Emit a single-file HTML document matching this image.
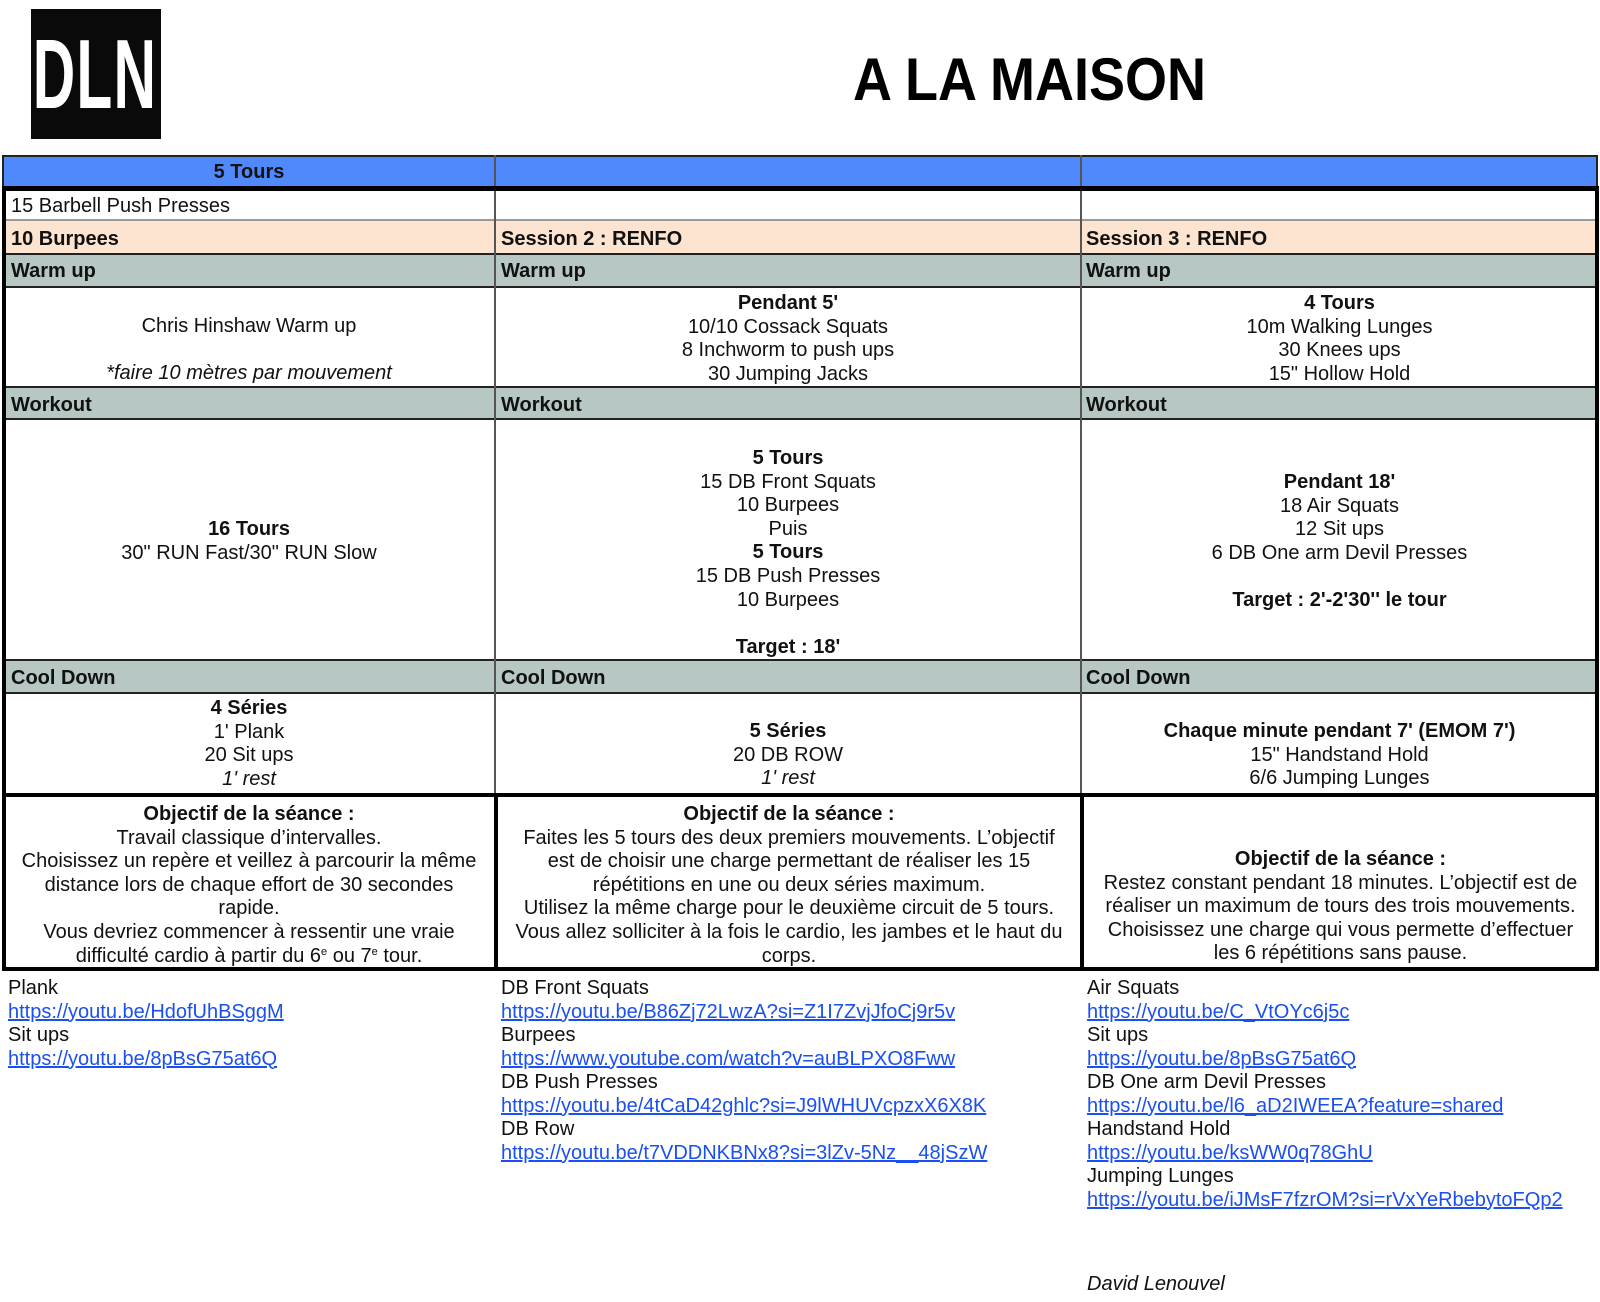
<!DOCTYPE html>
<html><head><meta charset="utf-8"><style>
*{margin:0;padding:0;box-sizing:border-box}
body{width:1600px;height:1302px;background:#fff;position:relative;overflow:hidden;font-family:"Liberation Sans",Arial,sans-serif;font-size:20px;color:#111}
.a{position:absolute}
.r{position:absolute;left:4px;width:1593px}
.h{position:absolute;line-height:20px;font-weight:bold;white-space:nowrap}
.t{position:absolute;text-align:center;line-height:23.6px;white-space:nowrap}
.l{position:absolute;line-height:23.5px;white-space:nowrap}
.l a{color:#1a4ff0;text-decoration:underline}
b{font-weight:bold}
.hl{position:absolute;left:4px;width:1593px;height:2px;background:#222}
.vl{position:absolute;width:2px;background:#222}
sup{font-size:11px;vertical-align:7px;line-height:0}
</style></head><body>
<!-- logo -->
<div class="a" style="left:31px;top:9px;width:130px;height:130px;background:#0a0a0a"></div>
<div class="a" style="left:-35px;top:25px;width:260px;text-align:center;color:#fff;font-weight:bold;font-size:98px;line-height:98px;letter-spacing:2px;transform:scaleX(0.6);transform-origin:center">DLN</div>
<div class="a" style="left:853px;top:44px;font-size:60px;font-weight:bold;line-height:72px;color:#000;white-space:nowrap;transform:scaleX(0.9);transform-origin:left center">A LA MAISON</div>

<!-- row backgrounds -->
<div class="r" style="top:155px;height:33px;background:#4f89fb;left:2px;width:1596px;border:2px solid #222"></div>
<div class="r" style="top:220px;height:34px;background:#fce4d0"></div>
<div class="r" style="top:254px;height:33px;background:#b7c7c4"></div>
<div class="r" style="top:387px;height:32px;background:#b7c7c4"></div>
<div class="r" style="top:660px;height:33px;background:#b7c7c4"></div>

<div class="hl" style="top:219px;background:#999"></div>
<div class="hl" style="top:253px"></div>
<div class="hl" style="top:286px"></div>
<div class="hl" style="top:386px"></div>
<div class="hl" style="top:418px"></div>
<div class="hl" style="top:659px"></div>
<div class="hl" style="top:692px"></div>
<div class="vl" style="left:494px;top:155px;height:640px;background:#555"></div>
<div class="vl" style="left:1080px;top:155px;height:640px;background:#555"></div>
<div class="a" style="left:2px;top:186px;width:1597px;height:785px;border:4px solid #000;border-top-width:5px"></div>
<div class="a" style="left:2px;top:793px;width:1597px;height:4px;background:#000"></div>
<div class="a" style="left:494px;top:793px;width:4px;height:177px;background:#000"></div>
<div class="a" style="left:1080px;top:793px;width:4px;height:177px;background:#000"></div>

<div class="h" style="left:4px;width:490px;text-align:center;top:162px">5 Tours</div>
<div class="h" style="left:11px;top:196px;font-weight:normal">15 Barbell Push Presses</div>
<div class="h" style="left:11px;top:229px">10 Burpees</div>
<div class="h" style="left:501px;top:229px">Session 2 : RENFO</div>
<div class="h" style="left:1086px;top:229px">Session 3 : RENFO</div>
<div class="h" style="left:11px;top:261px">Warm up</div>
<div class="h" style="left:501px;top:261px">Warm up</div>
<div class="h" style="left:1086px;top:261px">Warm up</div>
<div class="h" style="left:11px;top:395px">Workout</div>
<div class="h" style="left:501px;top:395px">Workout</div>
<div class="h" style="left:1086px;top:395px">Workout</div>
<div class="h" style="left:11px;top:668px">Cool Down</div>
<div class="h" style="left:501px;top:668px">Cool Down</div>
<div class="h" style="left:1086px;top:668px">Cool Down</div>

<div class="t" style="left:4px;width:490px;top:315px">Chris Hinshaw Warm up<br>&nbsp;<br><i>*faire 10 mètres par mouvement</i></div>
<div class="t" style="left:496px;width:584px;top:292px"><b>Pendant 5'</b><br>10/10 Cossack Squats<br>8 Inchworm to push ups<br>30 Jumping Jacks</div>
<div class="t" style="left:1082px;width:515px;top:292px"><b>4 Tours</b><br>10m Walking Lunges<br>30 Knees ups<br>15" Hollow Hold</div>

<div class="t" style="left:4px;width:490px;top:518px"><b>16 Tours</b><br>30" RUN Fast/30" RUN Slow</div>
<div class="t" style="left:496px;width:584px;top:447px"><b>5 Tours</b><br>15 DB Front Squats<br>10 Burpees<br>Puis<br><b>5 Tours</b><br>15 DB Push Presses<br>10 Burpees<br>&nbsp;<br><b>Target : 18'</b></div>
<div class="t" style="left:1082px;width:515px;top:471px"><b>Pendant 18'</b><br>18 Air Squats<br>12 Sit ups<br>6 DB One arm Devil Presses<br>&nbsp;<br><b>Target : 2'-2'30'' le tour</b></div>

<div class="t" style="left:4px;width:490px;top:697px"><b>4 Séries</b><br>1' Plank<br>20 Sit ups<br><i>1' rest</i></div>
<div class="t" style="left:496px;width:584px;top:720px"><b>5 Séries</b><br>20 DB ROW<br><i>1' rest</i></div>
<div class="t" style="left:1082px;width:515px;top:720px"><b>Chaque minute pendant 7' (EMOM 7')</b><br>15" Handstand Hold<br>6/6 Jumping Lunges</div>

<div class="t" style="left:4px;width:490px;top:803px"><b>Objectif de la séance :</b><br>Travail classique d’intervalles.<br>Choisissez un repère et veillez à parcourir la même<br>distance lors de chaque effort de 30 secondes<br>rapide.<br>Vous devriez commencer à ressentir une vraie<br>difficulté cardio à partir du 6<sup>e</sup> ou 7<sup>e</sup> tour.</div>
<div class="t" style="left:498px;width:582px;top:803px"><b>Objectif de la séance :</b><br>Faites les 5 tours des deux premiers mouvements. L’objectif<br>est de choisir une charge permettant de réaliser les 15<br>répétitions en une ou deux séries maximum.<br>Utilisez la même charge pour le deuxième circuit de 5 tours.<br>Vous allez solliciter à la fois le cardio, les jambes et le haut du<br>corps.</div>
<div class="t" style="left:1084px;width:513px;top:848px"><b>Objectif de la séance :</b><br>Restez constant pendant 18 minutes. L’objectif est de<br>réaliser un maximum de tours des trois mouvements.<br>Choisissez une charge qui vous permette d’effectuer<br>les 6 répétitions sans pause.</div>

<div class="l" style="left:8px;top:977px">Plank<br><a>https://youtu.be/HdofUhBSggM</a><br>Sit ups<br><a>https://youtu.be/8pBsG75at6Q</a></div>
<div class="l" style="left:501px;top:977px">DB Front Squats<br><a>https://youtu.be/B86Zj72LwzA?si=Z1I7ZvjJfoCj9r5v</a><br>Burpees<br><a>https://www.youtube.com/watch?v=auBLPXO8Fww</a><br>DB Push Presses<br><a>https://youtu.be/4tCaD42ghlc?si=J9lWHUVcpzxX6X8K</a><br>DB Row<br><a>https://youtu.be/t7VDDNKBNx8?si=3lZv-5Nz__48jSzW</a></div>
<div class="l" style="left:1087px;top:977px">Air Squats<br><a>https://youtu.be/C_VtOYc6j5c</a><br>Sit ups<br><a>https://youtu.be/8pBsG75at6Q</a><br>DB One arm Devil Presses<br><a>https://youtu.be/l6_aD2IWEEA?feature=shared</a><br>Handstand Hold<br><a>https://youtu.be/ksWW0q78GhU</a><br>Jumping Lunges<br><a>https://youtu.be/iJMsF7fzrOM?si=rVxYeRbebytoFQp2</a></div>
<div class="l" style="left:1087px;top:1273px;font-style:italic">David Lenouvel</div>
</body></html>
